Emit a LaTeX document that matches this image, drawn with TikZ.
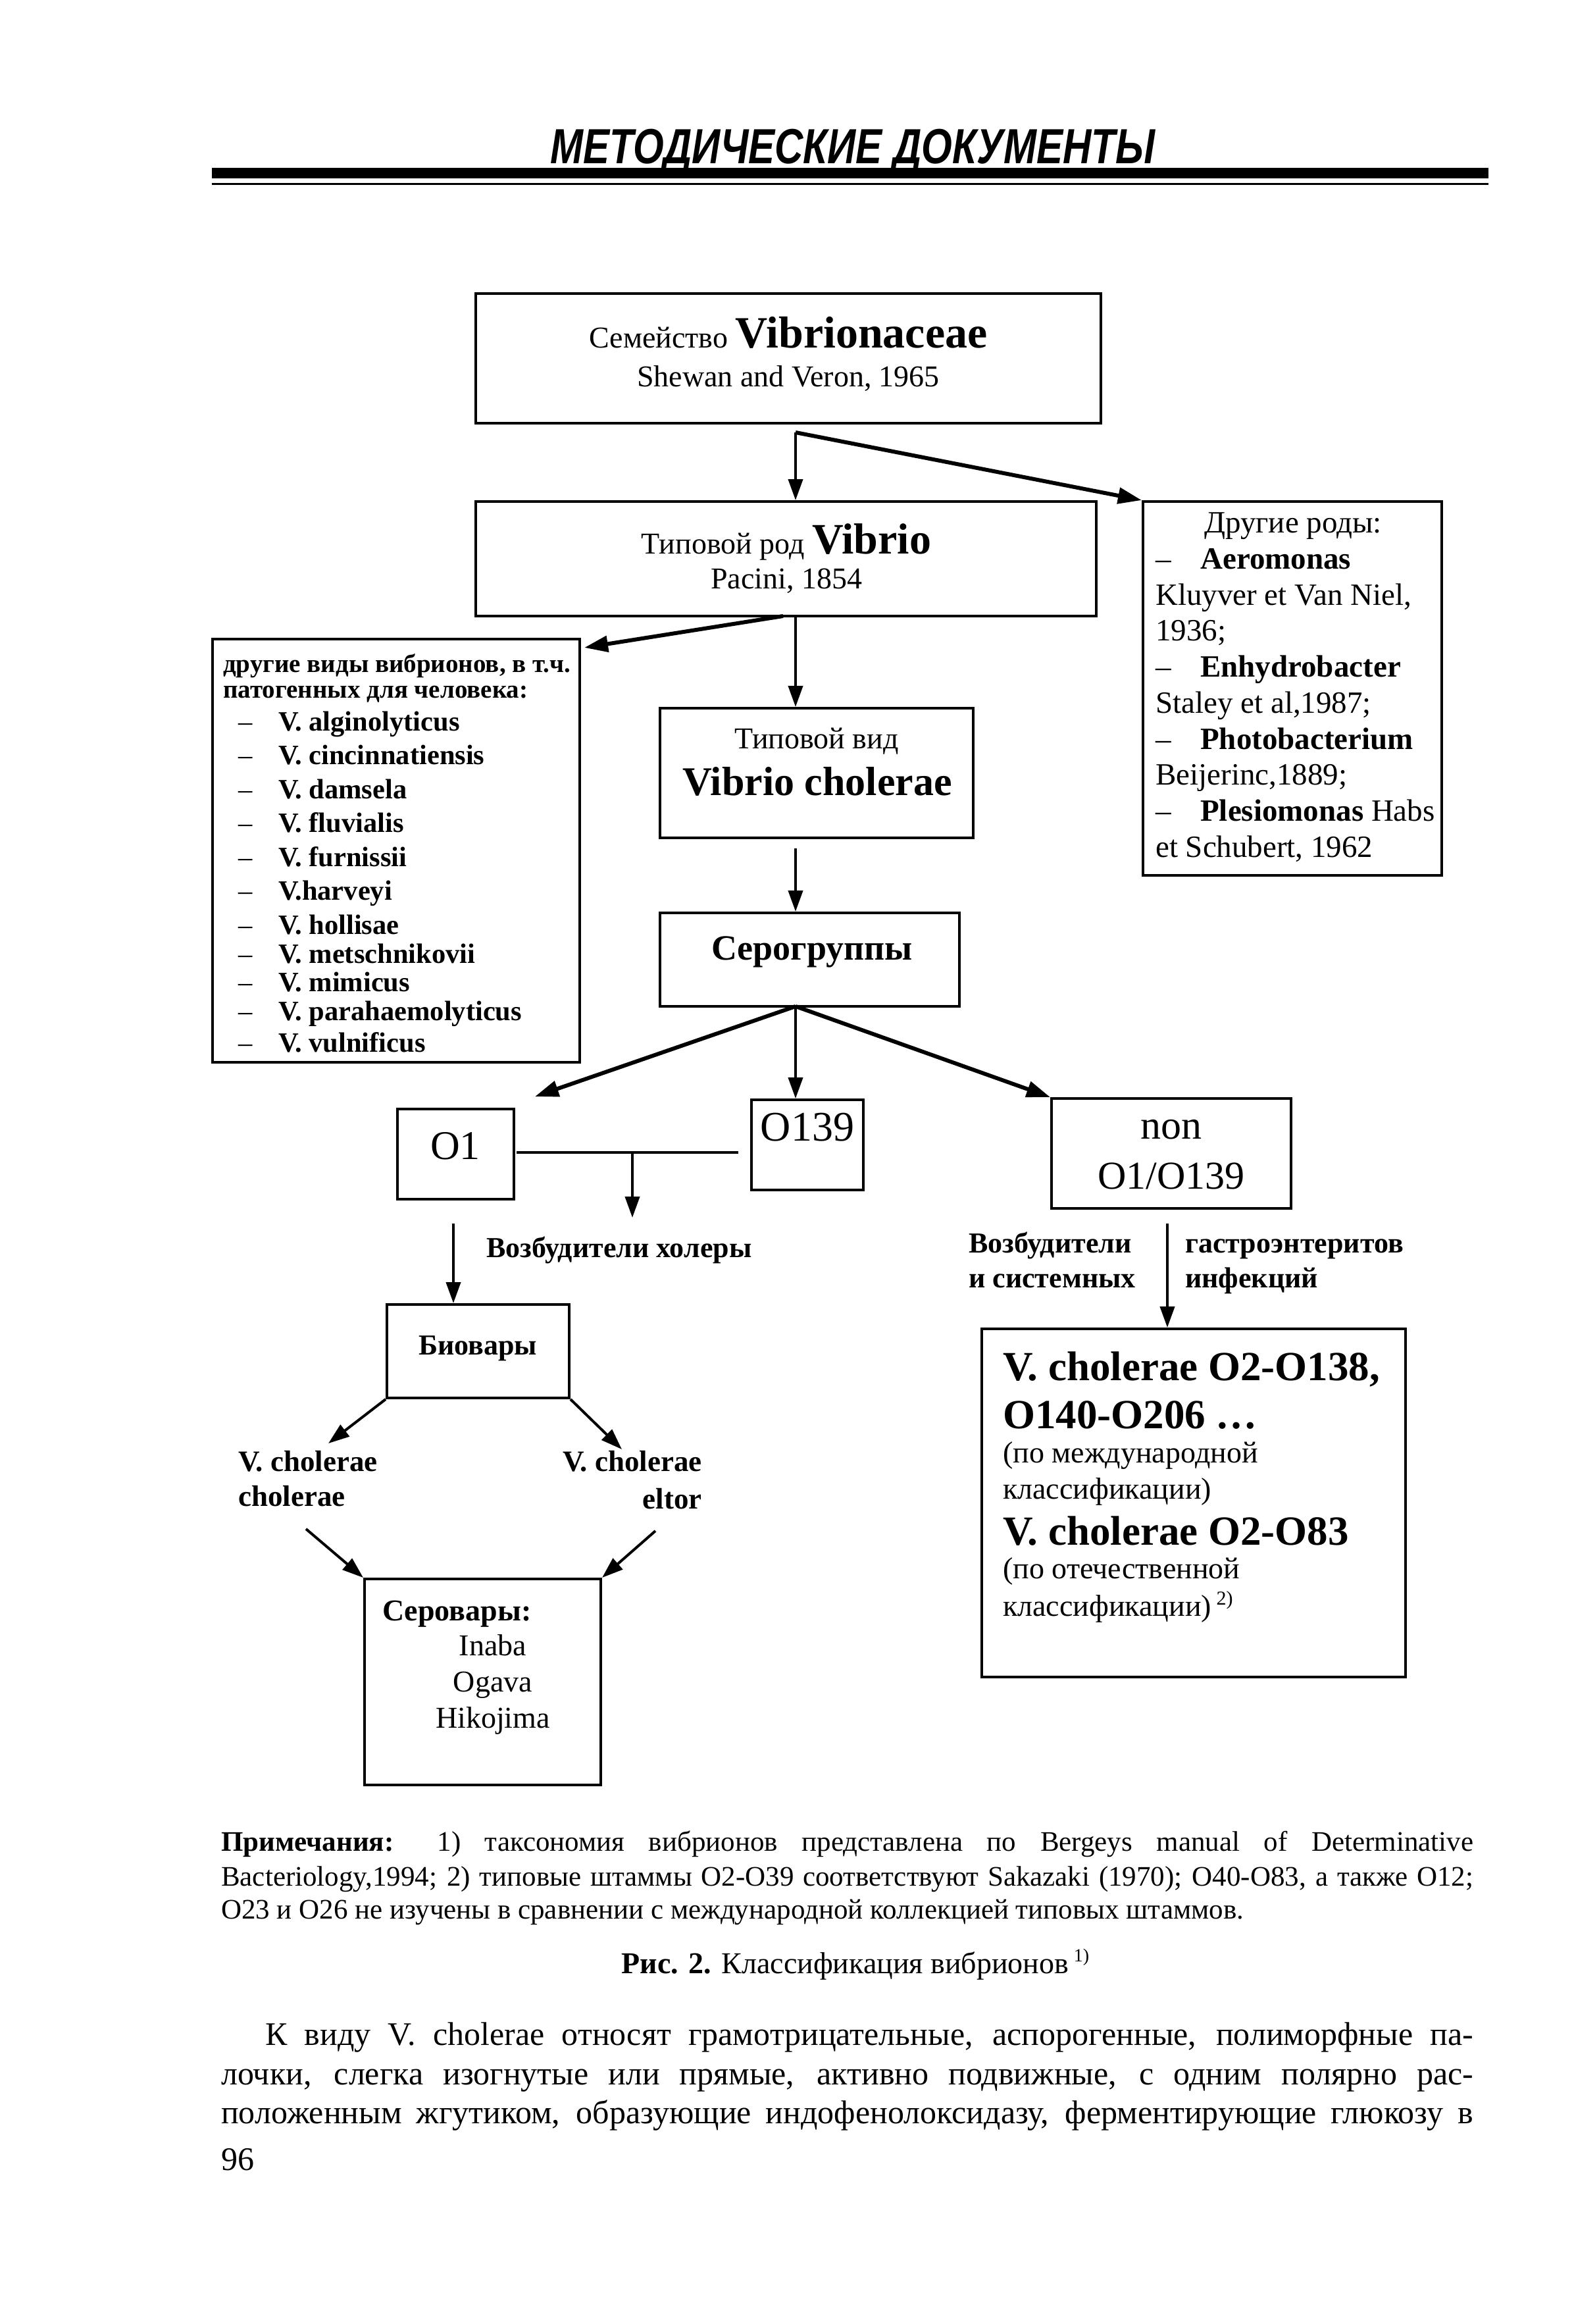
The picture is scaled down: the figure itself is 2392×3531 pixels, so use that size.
\documentclass[tikz,border=0pt]{standalone}
\usepackage{fontspec}
\usepackage{graphicx}
\setmainfont{Liberation Serif}
\newfontfamily\hdrfont{Liberation Sans}
\usetikzlibrary{arrows.meta}
\newcommand\fsz[1]{\fontsize{#1pt}{#1pt}\selectfont}
\begin{document}
\begin{tikzpicture}[x=1pt,y=-1pt,
  box/.style={draw, line width=4pt, inner sep=0pt},
  arr/.style={line width=4pt, -{Triangle[length=32pt,width=22pt]}},
  arrb/.style={line width=6pt, -{Triangle[length=36pt,width=24pt]}},
  ln/.style={line width=4pt},
  tx/.style={inner sep=0pt, anchor=base},
  tl/.style={inner sep=0pt, anchor=base west},
  tr/.style={inner sep=0pt, anchor=base east}]
\fill[white] (0,0) rectangle (2392,3531);
\useasboundingbox (0,0) rectangle (2392,3531);

% header
\node[tx] (title) at (1296,248) {\hdrfont\bfseries\itshape\fsz{75}\scalebox{0.8}[1]{МЕТОДИЧЕСКИЕ ДОКУМЕНТЫ}};
\fill (322,255) rectangle (2262,271);
\draw[line width=3pt] (322,279) -- (2262,279);

% boxes
\node[box, minimum width=950pt, minimum height=197pt] (fam) at (1198,544.5) {};
\node[box, minimum width=943pt, minimum height=174pt] (vib) at (1194.5,849) {};
\node[box, minimum width=454pt, minimum height=568pt] (oth) at (1964,1046) {};
\node[box, minimum width=558pt, minimum height=643pt] (lst) at (602,1292.5) {};
\node[box, minimum width=476pt, minimum height=197pt] (vid) at (1241,1174.5) {};
\node[box, minimum width=455pt, minimum height=142pt] (sero) at (1230.5,1458) {};
\node[box, minimum width=177pt, minimum height=137pt] (o1) at (692.5,1753.5) {};
\node[box, minimum width=170pt, minimum height=137pt] (o139) at (1227,1739.5) {};
\node[box, minimum width=364pt, minimum height=167pt] (non) at (1780,1752.5) {};
\node[box, minimum width=277pt, minimum height=142pt] (bio) at (726.5,2053) {};
\node[box, minimum width=359pt, minimum height=313pt] (ser) at (733.5,2555.5) {};
\node[box, minimum width=644pt, minimum height=529pt] (lr) at (1814,2283.5) {};

% family box text
\node[tx] (famA) at (1198,528) {\fsz{46}Семейство {\fsz{68}\bfseries Vibrionaceae}};
\node[tx] (famB) at (1198,587) {\fsz{46}Shewan and Veron, 1965};
% genus box text
\node[tx] (vibA) at (1195,841) {\fsz{46}Типовой род {\fsz{66}\bfseries Vibrio}};
\node[tx] (vibB) at (1195,894) {\fsz{46}Pacini, 1854};
% other genera
\node[tx] (othA) at (1965,809) {\fsz{47}Другие роды:};
\node[tl] (othB) at (1756,864) {\fsz{47}\makebox[68pt][l]{–}\textbf{Aeromonas}};
\node[tl] (othC) at (1756,919) {\fsz{47}Kluyver et Van Niel,};
\node[tl] (othD) at (1756,973) {\fsz{47}1936;};
\node[tl] (othE) at (1756,1028) {\fsz{47}\makebox[68pt][l]{–}\textbf{Enhydrobacter}};
\node[tl] (othF) at (1756,1083) {\fsz{47}Staley et al,1987;};
\node[tl] (othG) at (1756,1138) {\fsz{47}\makebox[68pt][l]{–}\textbf{Photobacterium}};
\node[tl] (othH) at (1756,1192) {\fsz{47}Beijerinc,1889;};
\node[tl] (othI) at (1756,1247) {\fsz{47}\makebox[68pt][l]{–}\textbf{Plesiomonas} Habs};
\node[tl] (othJ) at (1756,1302) {\fsz{47}et Schubert, 1962};
% list box
\node[tl] (lstA) at (339,1021) {\fsz{39}\bfseries другие виды вибрионов, в т.ч.};
\node[tl] (lstB) at (339,1060) {\fsz{39}\bfseries патогенных для человека:};
\node[tl] (l1) at (362,1110) {\fsz{42.5}\makebox[61pt][l]{–}\textbf{V. alginolyticus}};
\node[tl] (l2) at (362,1161) {\fsz{42.5}\makebox[61pt][l]{–}\textbf{V. cincinnatiensis}};
\node[tl] (l3) at (362,1213) {\fsz{42.5}\makebox[61pt][l]{–}\textbf{V. damsela}};
\node[tl] (l4) at (362,1264) {\fsz{42.5}\makebox[61pt][l]{–}\textbf{V. fluvialis}};
\node[tl] (l5) at (362,1316) {\fsz{42.5}\makebox[61pt][l]{–}\textbf{V. furnissii}};
\node[tl] (l6) at (362,1367) {\fsz{42.5}\makebox[61pt][l]{–}\textbf{V.harveyi}};
\node[tl] (l7) at (362,1419) {\fsz{42.5}\makebox[61pt][l]{–}\textbf{V. hollisae}};
\node[tl] (l8) at (362,1463) {\fsz{42.5}\makebox[61pt][l]{–}\textbf{V. metschnikovii}};
\node[tl] (l9) at (362,1506) {\fsz{42.5}\makebox[61pt][l]{–}\textbf{V. mimicus}};
\node[tl] (l10) at (362,1550) {\fsz{42.5}\makebox[61pt][l]{–}\textbf{V. parahaemolyticus}};
\node[tl] (l11) at (362,1598) {\fsz{42.5}\makebox[61pt][l]{–}\textbf{V. vulnificus}};
% species
\node[tx] (vidA) at (1241,1137) {\fsz{46}Типовой вид};
\node[tx] (vidB) at (1242,1208) {\fsz{62}\bfseries Vibrio cholerae};
\node[tx] (seroA) at (1234,1458) {\fsz{54}\bfseries Серогруппы};
% serogroups
\node[tx] (o1t) at (692,1761) {\fsz{62}O1};
\node[tx] (o139t) at (1227,1733) {\fsz{64}O139};
\node[tx] (nonA) at (1780,1730) {\fsz{62}non};
\node[tx] (nonB) at (1780,1806) {\fsz{60}O1/O139};
\node[tl] (chol) at (739,1910) {\fsz{44}\bfseries Возбудители холеры};
\node[tl] (exA) at (1472,1903) {\fsz{44}\bfseries Возбудители};
\node[tl] (exB) at (1472,1956) {\fsz{44}\bfseries и системных};
\node[tl] (exC) at (1801,1903) {\fsz{44}\bfseries гастроэнтеритов};
\node[tl] (exD) at (1801,1956) {\fsz{44}\bfseries инфекций};
% biovars
\node[tx] (bioA) at (726,2058) {\fsz{44}\bfseries Биовары};
\node[tl] (bcA) at (362,2235) {\fsz{45}\bfseries V. cholerae};
\node[tl] (bcB) at (362,2288) {\fsz{45}\bfseries cholerae};
\node[tr] (beA) at (1067,2235) {\fsz{45}\bfseries V. cholerae};
\node[tr] (beB) at (1067,2292) {\fsz{45}\bfseries eltor};
% serovars
\node[tl] (serA) at (581,2462) {\fsz{46}\bfseries Серовары:};
\node[tx] (serB) at (749,2515) {\fsz{46}Inaba};
\node[tx] (serC) at (749,2570) {\fsz{46}Ogava};
\node[tx] (serD) at (749,2625) {\fsz{46}Hikojima};
% lower right
\node[tl] (lrA) at (1524,2097) {\fsz{63}\bfseries V. cholerae O2-O138,};
\node[tl] (lrB) at (1524,2170) {\fsz{63}\bfseries O140-O206 …};
\node[tl] (lrC) at (1524,2222) {\fsz{46}(по международной};
\node[tl] (lrD) at (1524,2277) {\fsz{46}классификации)};
\node[tl] (lrE) at (1524,2347) {\fsz{63}\bfseries V. cholerae O2-O83};
\node[tl] (lrF) at (1524,2398) {\fsz{46}(по отечественной};
\node[tl] (lrG) at (1524,2455) {\fsz{46}классификации)\,\raisebox{17pt}{\fsz{30}2)}};

% connectors
\coordinate (J1) at (1209,657);
\draw[arr] (J1) -- (J1 |- vib.north);
\draw[arrb] (J1) -- (oth.north west);
\coordinate (vibL) at (1190,936);
\coordinate (lstTip) at (888,984);
\draw[arrb] (vibL) -- (lstTip);
\coordinate (vibC) at (1209,936);
\draw[arr] (vibC) -- (vibC |- vid.north);
\coordinate (vidC) at (1209,1289);
\draw[arr] (vidC) -- (vidC |- sero.north);
\coordinate (J2) at (1209,1529);
\coordinate (o1Tip) at (813,1666);
\draw[arrb] (J2) -- (o1Tip);
\draw[arr] (J2) -- (J2 |- o139.north);
\draw[arrb] (J2) -- (non.north west);
\coordinate (hL) at (785,1751);
\coordinate (hR) at (1122,1751);
\coordinate (hM) at (961,1751);
\coordinate (hTip) at (961,1850);
\draw[ln] (hL) -- (hR);
\draw[arr] (hM) -- (hTip);
\coordinate (o1D) at (689,1859);
\draw[arr] (o1D) -- (o1D |- bio.north);
\coordinate (nonD) at (1774,1859);
\draw[arr] (nonD) -- (nonD |- lr.north);
\coordinate (bcTip) at (499,2193);
\coordinate (beTip) at (945,2202);
\draw[arr] (bio.south west) -- (bcTip);
\draw[arr] (bio.south east) -- (beTip);
\coordinate (bcS) at (465,2323);
\coordinate (beS) at (996,2326);
\draw[arr] (bcS) -- (ser.north west);
\draw[arr] (beS) -- (ser.north east);

% notes and caption
\node[tl] (n1) at (336,2812) {\fsz{43}\makebox[1903pt][s]{\textbf{Примечания:} 1) таксономия вибрионов представлена по Bergeys manual of Determinative}};
\node[tl] (n2) at (336,2865) {\fsz{43}\makebox[1903pt][s]{Bacteriology,1994; 2) типовые штаммы O2-O39 соответствуют Sakazaki (1970); O40-O83, а также O12;}};
\node[tl] (n3) at (336,2915) {\fsz{43}O23 и O26 не изучены в сравнении с международной коллекцией типовых штаммов.};
\node[tx] (cap) at (1300,2998) {\fsz{46}\textbf{Рис. 2.} Классификация вибрионов\,\raisebox{18pt}{\fsz{28}1)}};
% body text
\node[tl] (b1) at (403,3107) {\fsz{50}\makebox[1836pt][s]{К виду V. cholerae относят грамотрицательные, аспорогенные, полиморфные па-}};
\node[tl] (b2) at (336,3167) {\fsz{50}\makebox[1903pt][s]{лочки, слегка изогнутые или прямые, активно подвижные, с одним полярно рас-}};
\node[tl] (b3) at (336,3226) {\fsz{50}\makebox[1903pt][s]{положенным жгутиком, образующие индофенолоксидазу, ферментирующие глюкозу в}};
\node[tl] (pg) at (336,3297) {\fsz{50}96};
\end{tikzpicture}
\end{document}
